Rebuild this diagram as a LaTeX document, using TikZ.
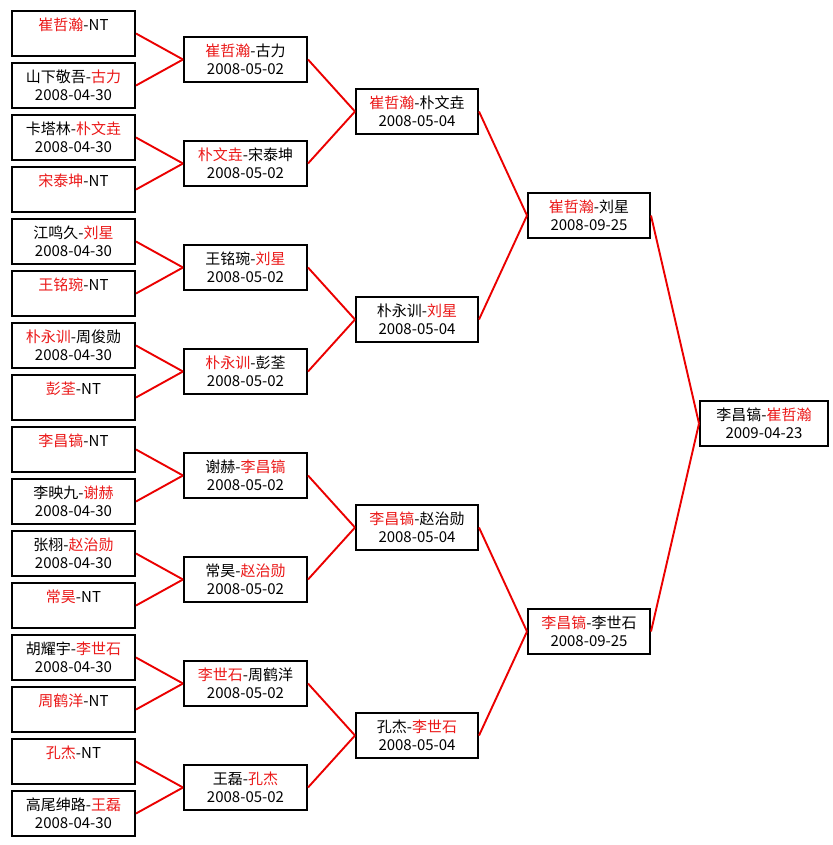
\documentclass[tikz,border=0pt]{standalone}
\usepackage{fontspec}
\setmainfont{Noto Sans CJK SC}
\usepackage{tikz}
\usetikzlibrary{positioning}
\usepackage{xcolor}
\definecolor{winred}{RGB}{235,25,25}
\definecolor{linkred}{RGB}{235,0,0}
\newcommand{\win}[1]{\textcolor{winred}{#1}}

\tikzset{
  matchbox/.style={draw=black, line width=2pt, anchor=north west,
    minimum width=#1, minimum height=45pt, inner sep=0pt, align=center,
    font=\fontsize{15pt}{18pt}\selectfont},
  matchbox/.default=123pt,
  link/.style={draw=linkred, line width=1.9pt}
}

\begin{document}
\begin{tikzpicture}[x=1pt, y=-1pt]
    \useasboundingbox[fill=white] (0,0) rectangle (832,845);
    % round one
    \foreach \i/\txt in {
      1/{\win{崔哲瀚}-NT\\~},
      2/{山下敬吾-\win{古力}\\2008-04-30},
      3/{卡塔林-\win{朴文垚}\\2008-04-30},
      4/{\win{宋泰坤}-NT\\~},
      5/{江鸣久-\win{刘星}\\2008-04-30},
      6/{\win{王铭琬}-NT\\~},
      7/{\win{朴永训}-周俊勋\\2008-04-30},
      8/{\win{彭荃}-NT\\~},
      9/{\win{李昌镐}-NT\\~},
      10/{李映九-\win{谢赫}\\2008-04-30},
      11/{张栩-\win{赵治勋}\\2008-04-30},
      12/{\win{常昊}-NT\\~},
      13/{胡耀宇-\win{李世石}\\2008-04-30},
      14/{\win{周鹤洋}-NT\\~},
      15/{\win{孔杰}-NT\\~},
      16/{高尾绅路-\win{王磊}\\2008-04-30}}
      \node[matchbox] (a\i) at (11,{10+52*(\i-1)}) {\txt};
    % round two
    \foreach \i/\txt in {
      1/{\win{崔哲瀚}-古力},
      2/{\win{朴文垚}-宋泰坤},
      3/{王铭琬-\win{刘星}},
      4/{\win{朴永训}-彭荃},
      5/{谢赫-\win{李昌镐}},
      6/{常昊-\win{赵治勋}},
      7/{\win{李世石}-周鹤洋},
      8/{王磊-\win{孔杰}}}
      \node[matchbox] (b\i) at (183,{36+104*(\i-1)}) {\txt\\2008-05-02};
    % quarter finals
    \foreach \i/\txt in {
      1/{\win{崔哲瀚}-朴文垚},
      2/{朴永训-\win{刘星}},
      3/{\win{李昌镐}-赵治勋},
      4/{孔杰-\win{李世石}}}
      \node[matchbox=122pt] (c\i) at (355,{88+208*(\i-1)}) {\txt\\2008-05-04};
    % semi finals
    \node[matchbox=122pt] (d1) at (527,192) {\win{崔哲瀚}-刘星\\2008-09-25};
    \node[matchbox=122pt] (d2) at (527,608) {\win{李昌镐}-李世石\\2008-09-25};
    % final
    \node[matchbox=128pt] (e1) at (699,400) {李昌镐-\win{崔哲瀚}\\2009-04-23};

    % connectors
    \foreach \i in {1,...,8}{
      \pgfmathtruncatemacro\j{2*\i-1}
      \pgfmathtruncatemacro\k{2*\i}
      \draw[link] (a\j.east) -- (b\i.west);
      \draw[link] (a\k.east) -- (b\i.west);
    }
    \foreach \i in {1,...,4}{
      \pgfmathtruncatemacro\j{2*\i-1}
      \pgfmathtruncatemacro\k{2*\i}
      \draw[link] (b\j.east) -- (c\i.west);
      \draw[link] (b\k.east) -- (c\i.west);
    }
    \foreach \i in {1,2}{
      \pgfmathtruncatemacro\j{2*\i-1}
      \pgfmathtruncatemacro\k{2*\i}
      \draw[link] (c\j.east) -- (d\i.west);
      \draw[link] (c\k.east) -- (d\i.west);
    }
    \draw[link] (d1.east) -- (e1.west);
    \draw[link] (d2.east) -- (e1.west);
  \end{tikzpicture}
\end{document}
